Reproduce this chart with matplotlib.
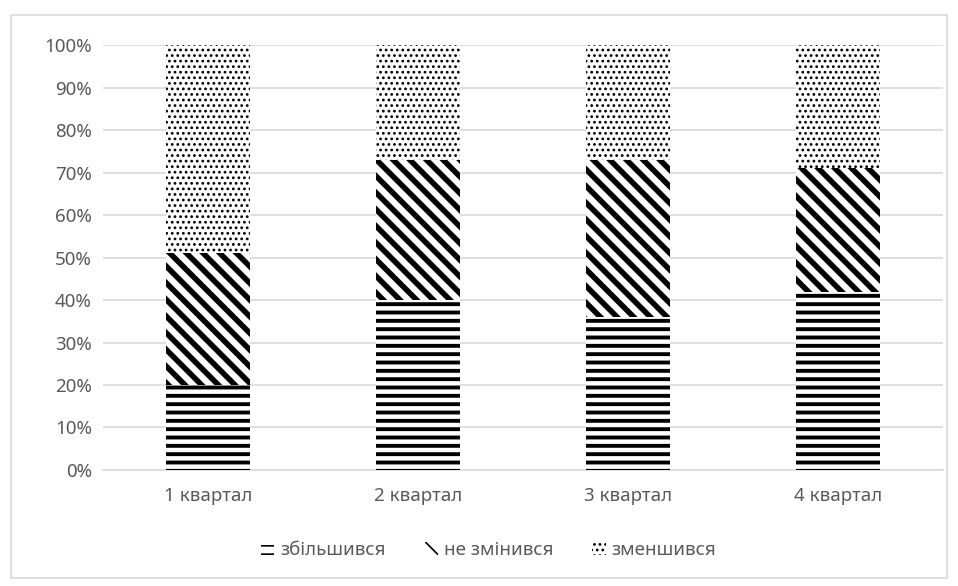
import matplotlib.pyplot as plt
from matplotlib.patches import Rectangle
import numpy as np

plt.rcParams['font.family'] = ['Noto Sans', 'DejaVu Sans']

quarters = ['1 квартал', '2 квартал', '3 квартал', '4 квартал']
increased = [20, 40, 36, 42]   # збільшився
unchanged = [31, 33, 37, 29]   # не змінився
decreased = [49, 27, 27, 29]   # зменшився
series_names = ['збільшився', 'не змінився', 'зменшився']

hatches = ['--', '\\\\', '...']
hatch_widths = [2.8, 4.0, 1.2]

fig = plt.figure(figsize=(9.58, 5.86), dpi=100)
ax = fig.add_axes([0.1075, 0.198, 0.877, 0.725])

# light frame around the whole chart
fig.patches.append(Rectangle((0.011, 0.014), 0.977, 0.961, transform=fig.transFigure,
                             fill=False, edgecolor='#d9d9d9', linewidth=1.2))

x = np.arange(len(quarters))
bottom = np.zeros(len(quarters))
for vals, name, h, hw in zip([increased, unchanged, decreased], series_names, hatches, hatch_widths):
    plt.rcParams['hatch.linewidth'] = hw
    bars = ax.bar(x, vals, width=0.4, bottom=bottom, facecolor='white',
                  edgecolor='black', linewidth=0, hatch=h, label=name, zorder=3)
    for b in bars:
        if hasattr(b, 'set_hatch_linewidth'):
            b.set_hatch_linewidth(hw)
    bottom += np.array(vals)

ax.set_xlim(-0.5, len(quarters) - 0.5)
ax.set_ylim(0, 100)
ax.set_yticks(np.arange(0, 101, 10))
ax.set_yticklabels([f'{v}%' for v in range(0, 101, 10)])
ax.set_xticks(x)
ax.set_xticklabels(quarters)
ax.grid(axis='y', color='#d9d9d9', linewidth=1.2, zorder=0)
ax.tick_params(axis='both', length=0, labelsize=13.5, colors='#595959', pad=8)
ax.tick_params(axis='x', pad=12)
for s in ['top', 'right', 'left']:
    ax.spines[s].set_visible(False)
ax.spines['bottom'].set_color('#d9d9d9')
ax.spines['bottom'].set_linewidth(1.2)

leg = fig.legend(loc='center', bbox_to_anchor=(0.51, 0.062), ncol=3, frameon=False,
                 handlelength=0.7, handleheight=0.7, handletextpad=0.3,
                 columnspacing=2.1, fontsize=13.5)
for t in leg.get_texts():
    t.set_color('#595959')

fig.savefig('out.png', dpi=100)
